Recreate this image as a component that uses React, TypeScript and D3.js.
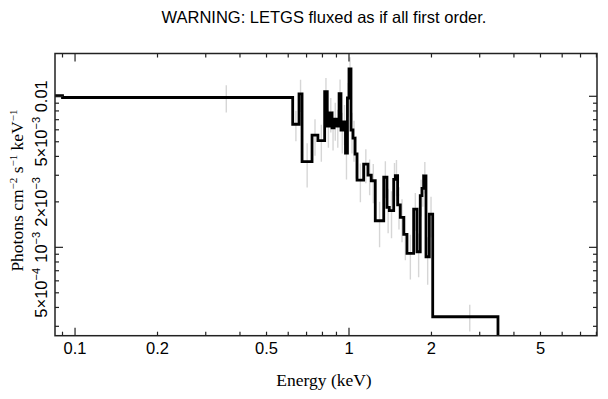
import React, { useRef, useEffect } from 'react';
import * as d3 from 'd3';

// fluxed LETGS spectrum: bin lower edges (keV), flux (photons cm^-2 s^-1 keV^-1), errors
const binLo = [
  0.08, 0.09, 0.623, 0.657, 0.674, 0.733, 0.77, 0.815, 0.833, 0.849,
  0.867, 0.882, 0.9, 0.92, 0.935, 0.955, 0.971, 0.987, 1.0, 1.017,
  1.034, 1.052, 1.07, 1.131, 1.173, 1.206, 1.247, 1.339, 1.376, 1.403,
  1.456, 1.476, 1.505, 1.539, 1.584, 1.628, 1.722, 1.771, 1.82, 1.847,
  1.873, 1.91, 1.964, 2.021, 3.498,
];
const lastEdge = 9;
const flux = [
  0.01008, 0.00982, 0.00653, 0.01036, 0.00369, 0.00554, 0.00508, 0.01073, 0.00636, 0.00775,
  0.00617, 0.00707, 0.00636, 0.01043, 0.00598, 0.00676, 0.00421, 0.00974, 0.01516, 0.00598,
  0.00529, 0.00415, 0.00279, 0.00356, 0.00301, 0.00276, 0.0015, 0.00291, 0.00184, 0.00175,
  0.00282, 0.00298, 0.00191, 0.00158, 0.00122, 0.000913, 0.00179, 0.000935, 0.0022, 0.00246,
  0.00297, 0.000866, 0.00166, 0.000347, 0.0001,
];
const fluxErr = [
  0, 0.002, 0.0015, 0.0025, 0.0012, 0.0015, 0.0014, 0.0025, 0.0018, 0.002,
  0.0018, 0.002, 0.0018, 0.0025, 0.0018, 0.002, 0.0014, 0.0025, 0.003, 0.0018,
  0.0016, 0.0013, 0.0008, 0.0009, 0.0008, 0.0008, 0.0005, 0.0008, 0.0006, 0.0006,
  0.0008, 0.0008, 0.0006, 0.0005, 0.0004, 0.0003, 0.0005, 0.0003, 0.0006, 0.0006,
  0.0007, 0.0003, 0.0005, 0.00007, 0,
];

const xLabelTicks = [0.1, 0.2, 0.5, 1, 2, 5];
const xMajorTicks = [0.1, 1];
const xMinorTicks = [0.09, 0.2, 0.3, 0.4, 0.5, 0.6, 0.7, 0.8, 0.9, 2, 3, 4, 5, 6, 7, 8];
const yMajorTicks = [0.001, 0.01];
const yMinorTicks = [
  0.0003, 0.0004, 0.0005, 0.0006, 0.0007, 0.0008, 0.0009,
  0.002, 0.003, 0.004, 0.005, 0.006, 0.007, 0.008, 0.009,
];
const yLabelTicks = [0.0005, 0.001, 0.002, 0.005, 0.01];
const yLabelText = ['5×10^−4', '10^−3', '2×10^−3', '5×10^−3', '0.01'];

const titleText = 'WARNING: LETGS fluxed as if all first order.';

export default function App() {
  const width = 608;
  const height = 399;
  const margin = { top: 53.5, right: 11, bottom: 63.3, left: 55 };
  const ref = useRef(null);

  useEffect(() => {
    const svg = d3.select(ref.current);
    svg.selectAll('*').remove();

    const x = d3.scaleLog().domain([0.0845, 8.04]).range([margin.left, width - margin.right]);
    const y = d3.scaleLog().domain([2.6e-4, 0.0192]).range([height - margin.bottom, margin.top]);
    const [x0, x1] = x.range();
    const [y0, y1] = y.range();

    svg
      .append('defs')
      .append('clipPath')
      .attr('id', 'plotclip')
      .append('rect')
      .attr('x', x0)
      .attr('y', y1)
      .attr('width', x1 - x0)
      .attr('height', y0 - y1);

    const plot = svg.append('g').attr('clip-path', 'url(#plotclip)');

    // error bars at linear bin centres
    const bars = binLo
      .map((lo, i) => ({
        c: (lo + (i < binLo.length - 1 ? binLo[i + 1] : lastEdge)) / 2,
        f: flux[i],
        e: fluxErr[i],
      }))
      .filter((d) => d.e > 0);

    plot
      .selectAll('line.err')
      .data(bars)
      .join('line')
      .attr('class', 'err')
      .attr('x1', (d) => x(d.c))
      .attr('x2', (d) => x(d.c))
      .attr('y1', (d) => y(d.f + d.e))
      .attr('y2', (d) => y(Math.max(d.f - d.e, 1e-5)))
      .attr('stroke', '#d6d6d6')
      .attr('stroke-width', 1.4);

    const pts = binLo.map((lo, i) => [lo, flux[i]]);
    pts.push([lastEdge, flux[flux.length - 1]]);

    const line = d3
      .line()
      .x((d) => x(d[0]))
      .y((d) => y(d[1]))
      .curve(d3.curveStepAfter);

    plot
      .append('path')
      .attr('d', line(pts))
      .attr('fill', 'none')
      .attr('stroke', '#000')
      .attr('stroke-width', 2.8)
      .attr('stroke-linejoin', 'miter');

    // frame
    svg
      .append('rect')
      .attr('x', x0)
      .attr('y', y1)
      .attr('width', x1 - x0)
      .attr('height', y0 - y1)
      .attr('fill', 'none')
      .attr('stroke', '#222')
      .attr('stroke-width', 1.5);

    const tickG = svg.append('g').attr('stroke', '#222').attr('stroke-width', 1.2);
    const xTicks = [
      ...xMajorTicks.map((v) => ({ v, len: 8 })),
      ...xMinorTicks.map((v) => ({ v, len: 4 })),
    ];
    const yTicks = [
      ...yMajorTicks.map((v) => ({ v, len: 8 })),
      ...yMinorTicks.map((v) => ({ v, len: 4 })),
    ];

    tickG
      .selectAll('line.xb')
      .data(xTicks)
      .join('line')
      .attr('x1', (d) => x(d.v))
      .attr('x2', (d) => x(d.v))
      .attr('y1', y0)
      .attr('y2', (d) => y0 - d.len);
    tickG
      .selectAll('line.xt')
      .data(xTicks)
      .join('line')
      .attr('x1', (d) => x(d.v))
      .attr('x2', (d) => x(d.v))
      .attr('y1', y1)
      .attr('y2', (d) => y1 + d.len);
    tickG
      .selectAll('line.yl')
      .data(yTicks)
      .join('line')
      .attr('y1', (d) => y(d.v))
      .attr('y2', (d) => y(d.v))
      .attr('x1', x0)
      .attr('x2', (d) => x0 + d.len);
    tickG
      .selectAll('line.yr')
      .data(yTicks)
      .join('line')
      .attr('y1', (d) => y(d.v))
      .attr('y2', (d) => y(d.v))
      .attr('x1', x1)
      .attr('x2', (d) => x1 - d.len);

    const sans = 'Liberation Sans, Arial, sans-serif';
    const serif = 'Liberation Serif, Times New Roman, serif';

    svg
      .append('g')
      .selectAll('text')
      .data(xLabelTicks)
      .join('text')
      .attr('x', (d) => x(d))
      .attr('y', 354)
      .attr('text-anchor', 'middle')
      .attr('font-family', sans)
      .attr('font-size', 16.5)
      .text((d) => String(d));

    // rotated y tick labels with superscripts
    yLabelTicks.forEach((v, i) => {
      const [base, sup] = yLabelText[i].split('^');
      const t = svg
        .append('text')
        .attr('transform', `translate(47,${y(v)}) rotate(-90)`)
        .attr('text-anchor', 'middle')
        .attr('font-family', sans)
        .attr('font-size', 16.5);
      t.append('tspan').text(base);
      if (sup) t.append('tspan').attr('dy', -7).attr('font-size', 11).text(sup);
    });

    svg
      .append('text')
      .attr('x', 324)
      .attr('y', 23)
      .attr('text-anchor', 'middle')
      .attr('font-family', sans)
      .attr('font-size', 16.5)
      .text(titleText);

    svg
      .append('text')
      .attr('x', 324)
      .attr('y', 386)
      .attr('text-anchor', 'middle')
      .attr('font-family', serif)
      .attr('font-size', 17.5)
      .text('Energy (keV)');

    const yl = svg
      .append('text')
      .attr('transform', `translate(23,${(y0 + y1) / 2 - 4}) rotate(-90)`)
      .attr('text-anchor', 'middle')
      .attr('font-family', serif)
      .attr('font-size', 17.5);
    const parts = [
      ['Photons cm', '−2'],
      [' s', '−1'],
      [' keV', '−1'],
    ];
    parts.forEach(([txt, sup], i) => {
      yl.append('tspan').attr('dy', i === 0 ? 0 : 6).text(txt);
      yl.append('tspan').attr('dy', -6).attr('font-size', 11).text(sup);
    });
  }, []);

  return (
    <svg
      ref={ref}
      width={width}
      height={height}
      style={{ position: 'absolute', left: 0, top: 0, background: '#fff' }}
    />
  );
}
